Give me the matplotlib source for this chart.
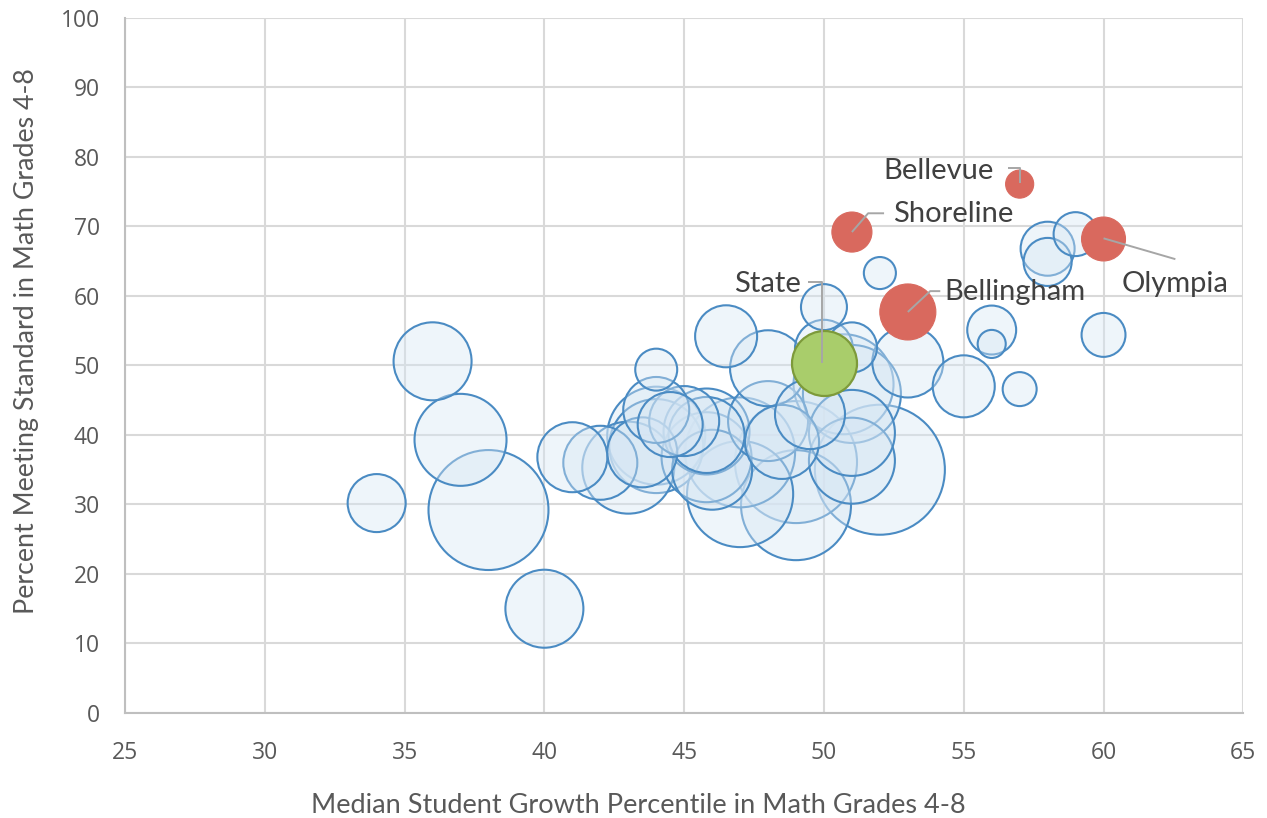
import numpy as np
import matplotlib
matplotlib.use('Agg')
import matplotlib.pyplot as plt

# district bubbles: growth percentile, percent meeting standard, enrollment
blue_x = [34.0, 36.0, 37.0, 38.0, 40.0, 41.0, 42.0, 43.0, 44.0, 44.0,
          44.0, 44.0, 46.5, 48.0, 45.8, 47.0, 47.0, 49.0, 49.0, 52.0,
          50.0, 50.0, 51.0, 50.7, 51.0, 51.0, 51.0, 53.0, 55.0, 52.0,
          56.0, 56.0, 57.0, 58.0, 58.0, 59.0, 60.0,
          45.0, 45.8, 48.0, 48.5, 46.0, 49.5, 44.5, 43.5, 45.8]
blue_y = [30.2, 50.6, 39.3, 29.2, 15.0, 36.8, 36.0, 35.3, 49.4, 43.6,
          39.9, 38.4, 54.2, 49.6, 36.8, 37.5, 31.5, 36.1, 29.9, 35.0,
          58.4, 52.4, 52.6, 47.3, 45.9, 40.3, 36.3, 50.5, 47.0, 63.3,
          55.1, 53.1, 46.6, 66.8, 64.9, 68.9, 54.4,
          42.0, 40.0, 42.0, 39.0, 35.0, 43.0, 41.5, 37.5, 40.5]
blue_n = [2390, 4320, 6010, 10220, 4320, 3480, 3890, 6010, 1250, 3090,
          6820, 6270, 2730, 4100, 5750, 8590, 8000, 10570, 8590, 12000,
          1500, 2390, 1780, 7100, 6820, 5250, 5250, 3580, 2730, 730,
          1700, 560, 820, 2070, 1640, 1370, 1370,
          3480, 4100, 4540, 3890, 4540, 3480, 3000, 3480, 5250]

red_names = ['Bellevue', 'Shoreline', 'Bellingham', 'Olympia']
red_x = [57.0, 51.0, 53.0, 60.0]
red_y = [76.1, 69.2, 57.7, 68.2]
red_n = [560, 1140, 2230, 1370]

state_x = [50.0]
state_y = [50.3]
state_n = [3000]

x_ticks = [25, 30, 35, 40, 45, 50, 55, 60, 65]
y_ticks = [0, 10, 20, 30, 40, 50, 60, 70, 80, 90, 100]

def bubble_area(n):
    return 0.73 * np.asarray(n, dtype=float)

fig = plt.figure(figsize=(12.67, 8.18), dpi=100)
ax = fig.add_axes([0.0987, 0.1284, 0.8826, 0.8496])

order = np.argsort(blue_n)[::-1]
bx = np.array(blue_x)[order]
by = np.array(blue_y)[order]
bn = np.array(blue_n)[order]
ax.scatter(bx, by, s=bubble_area(bn), facecolor=(0.84, 0.9, 0.955, 0.4),
           edgecolor='#4a8bc3', linewidth=1.5, zorder=3)
ax.scatter(red_x, red_y, s=bubble_area(red_n), facecolor='#d9695e',
           edgecolor='#d9695e', linewidth=0.8, zorder=4)
ax.scatter(state_x, state_y, s=bubble_area(state_n), facecolor='#a9cd6b',
           edgecolor='#7d9a3a', linewidth=1.6, zorder=5)

# labels and leader lines
lead = dict(color='#a6a6a6', lw=1.4, zorder=6, solid_capstyle='butt')
lab = dict(fontsize=21, color='#404040', family='Lato', va='center', zorder=7)

ax.plot([56.6, 57.0, 57.0], [78.4, 78.4, 76.3], **lead)
ax.text(56.06, 78.0, 'Bellevue', ha='right', **lab)

ax.plot([51.0, 51.58, 52.15], [69.2, 71.9, 71.9], **lead)
ax.text(52.48, 71.8, 'Shoreline', ha='left', **lab)

ax.plot([49.44, 49.93, 49.93], [62.0, 62.0, 50.4], **lead)
ax.text(49.19, 61.7, 'State', ha='right', **lab)

ax.plot([53.0, 53.8, 54.16], [57.7, 60.7, 60.7], **lead)
ax.text(54.3, 60.6, 'Bellingham', ha='left', **lab)

ax.plot([60.0, 62.57], [68.3, 65.3], **lead)
ax.text(60.63, 61.7, 'Olympia', ha='left', **lab)

ax.set_xlim(25, 65)
ax.set_ylim(0, 100)
ax.set_xticks(x_ticks)
ax.set_yticks(y_ticks)
ax.grid(True, color='#d9d9d9', linewidth=1.5, zorder=0)
ax.set_axisbelow(True)
for sp in ['top', 'right']:
    ax.spines[sp].set_visible(False)
for sp in ['left', 'bottom']:
    ax.spines[sp].set_color('#bfbfbf')
    ax.spines[sp].set_linewidth(1.5)
ax.tick_params(axis='both', length=0, labelsize=16.5, labelcolor='#595959')
ax.tick_params(axis='x', pad=20)
ax.tick_params(axis='y', pad=18)
for t in ax.get_xticklabels() + ax.get_yticklabels():
    t.set_family('Open Sans')

ax.set_xlabel('Median Student Growth Percentile in Math Grades 4-8',
              fontsize=19.5, color='#595959', family='Lato', labelpad=20)
ax.set_ylabel('Percent Meeting Standard in Math Grades 4-8',
              fontsize=19.3, color='#595959', family='Lato', labelpad=16)
ax.xaxis.label.set_x(0.459)
ax.yaxis.label.set_y(0.535)

fig.savefig('out.png', dpi=100)
